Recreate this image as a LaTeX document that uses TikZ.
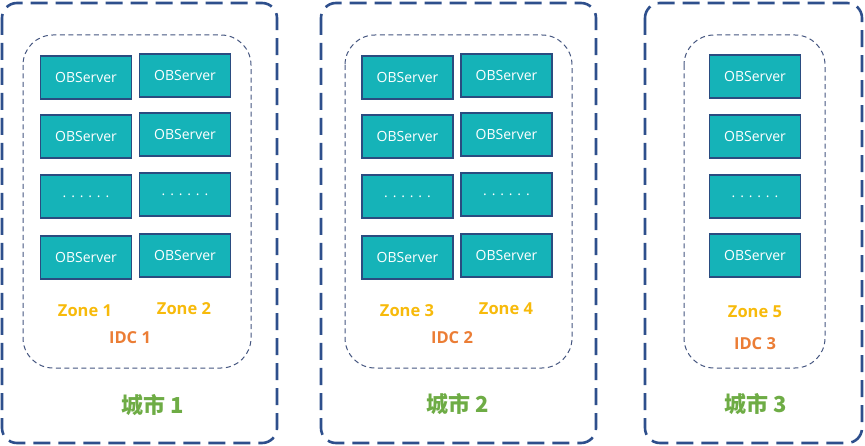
\documentclass[tikz,border=0pt]{standalone}
\usepackage{fontspec}
\setmainfont{Open Sans}
\newfontfamily\cjkfont{Noto Sans CJK SC}
\definecolor{framecol}{HTML}{2E4F8C}
\definecolor{idccol}{HTML}{44557F}
\definecolor{srvfill}{HTML}{15B3B8}
\definecolor{srvline}{HTML}{2A4C80}
\definecolor{zonecol}{HTML}{F7BA0B}
\definecolor{idctext}{HTML}{EB7D35}
\definecolor{citycol}{HTML}{6EAC45}
\begin{document}
\begin{tikzpicture}[x=1pt,y=-1pt,
  cityframe/.style={draw=framecol,line width=2.6pt,rounded corners=15pt,dash pattern=on 17pt off 8pt,inner sep=0pt},
  idcframe/.style={draw=idccol,line width=1pt,rounded corners=30pt,dash pattern=on 5pt off 3.5pt,inner sep=0pt},
  server/.style={draw=srvline,line width=1.1pt,fill=srvfill,text=white,minimum width=91pt,minimum height=43pt,inner sep=0pt,font=\fontsize{14}{16}\selectfont},
  zonelabel/.style={text=zonecol,font=\bfseries\fontsize{16.5}{19}\selectfont},
  idclabel/.style={text=idctext,font=\bfseries\fontsize{16.5}{19}\selectfont},
  citylabel/.style={text=citycol,font=\cjkfont\bfseries\fontsize{22}{25}\selectfont}]
\useasboundingbox (0,0) rectangle (865,446);
% city frames
\draw[cityframe] (2,3) rectangle (277,443);
\draw[cityframe] (321,3) rectangle (596,443);
\draw[cityframe] (645,3) rectangle (862,443);
% idc frames
\draw[idcframe] (23,35) rectangle (251,368);
\draw[idcframe] (345,35) rectangle (572,368);
\draw[idcframe] (684,35) rectangle (825,368);
% city 1
\node[server] (a11) at (86,77.5) {OBServer};
\node[server] (a12) at (86,136.5) {OBServer};
\node[server] (a13) at (86,196.5) {. . . . . .};
\node[server] (a14) at (86,257.5) {OBServer};
\node[server] (a21) at (185,75.5) {OBServer};
\node[server] (a22) at (185,134.5) {OBServer};
\node[server] (a23) at (185,194.5) {. . . . . .};
\node[server] (a24) at (185,255.5) {OBServer};
\node[zonelabel] (z1) at (85,311) {Zone 1};
\node[zonelabel] (z2) at (184,309) {Zone 2};
\node[idclabel] (i1) at (130,338) {IDC 1};
\node[citylabel] (c1) at (153,405) {城市 1};
% city 2
\node[server] (b11) at (407.5,77.5) {OBServer};
\node[server] (b12) at (407.5,136.5) {OBServer};
\node[server] (b13) at (407.5,196.5) {. . . . . .};
\node[server] (b14) at (407.5,257.5) {OBServer};
\node[server] (b21) at (506.5,75.5) {OBServer};
\node[server] (b22) at (506.5,134.5) {OBServer};
\node[server] (b23) at (506.5,194.5) {. . . . . .};
\node[server] (b24) at (506.5,255.5) {OBServer};
\node[zonelabel] (z3) at (407,311) {Zone 3};
\node[zonelabel] (z4) at (506,309) {Zone 4};
\node[idclabel] (i2) at (452,338) {IDC 2};
\node[citylabel] (c2) at (458,404) {城市 2};
% city 3
\node[server] (e1) at (755,76.5) {OBServer};
\node[server] (e2) at (755,136.5) {OBServer};
\node[server] (e3) at (755,196.5) {. . . . . .};
\node[server] (e4) at (755,255.5) {OBServer};
\node[zonelabel] (z5) at (755,312) {Zone 5};
\node[idclabel] (i3) at (755,344) {IDC 3};
\node[citylabel] (c3) at (756,404) {城市 3};
\end{tikzpicture}
\end{document}
